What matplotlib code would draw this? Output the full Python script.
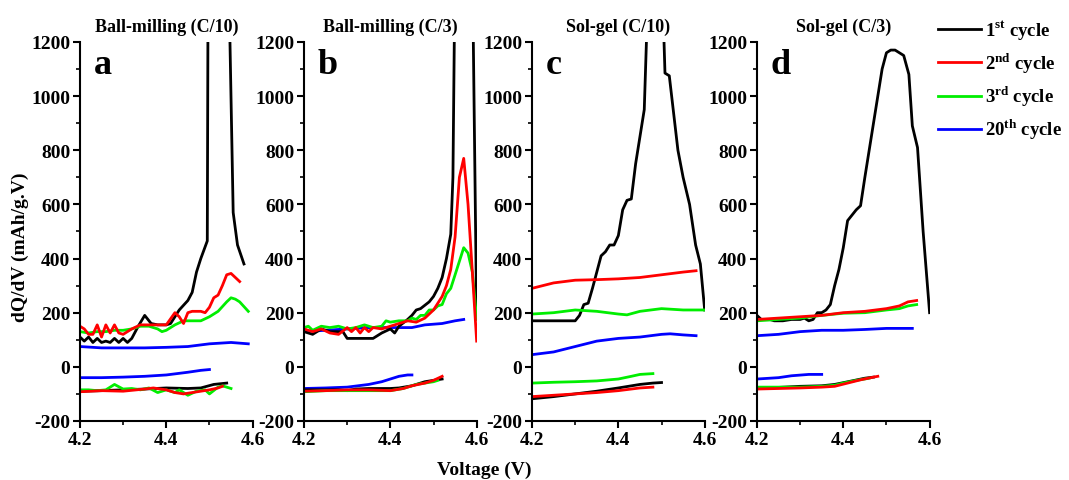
import matplotlib
matplotlib.use('Agg')
import matplotlib.pyplot as plt
from matplotlib.ticker import MultipleLocator
from matplotlib.lines import Line2D

plt.rcParams['font.family'] = ['Liberation Serif', 'DejaVu Serif']
plt.rcParams['font.weight'] = 'bold'
plt.rcParams['mathtext.fontset'] = 'custom'
plt.rcParams['mathtext.rm'] = 'Liberation Serif:bold'
plt.rcParams['mathtext.bf'] = 'Liberation Serif:bold'
plt.rcParams['axes.unicode_minus'] = False

titles = ['Ball-milling (C/10)', 'Ball-milling (C/3)', 'Sol-gel (C/10)', 'Sol-gel (C/3)']
letters = ['a', 'b', 'c', 'd']
cycle_labels = [r'1$^{\rm st}$ cycle', r'2$^{\rm nd}$ cycle', r'3$^{\rm rd}$ cycle', r'20$^{\rm th}$ cycle']
colors = ['black', 'red', '#00ee00', 'blue']

# ---- panel a : ball-milling C/10 (charge = up, discharge = dn)
a_up_v1 = [4.20, 4.21, 4.22, 4.23, 4.24, 4.25, 4.26, 4.27, 4.28, 4.29, 4.30, 4.31, 4.32, 4.335, 4.35, 4.365, 4.38, 4.40, 4.41, 4.43, 4.45, 4.46, 4.47, 4.48, 4.495, 4.497, 4.544, 4.555, 4.565, 4.58]
a_up_q1 = [110, 95, 110, 90, 105, 90, 95, 90, 105, 90, 105, 90, 105, 150, 190, 160, 155, 155, 160, 210, 245, 275, 350, 400, 465, 1500, 1500, 570, 450, 380]
a_up_v2 = [4.20, 4.21, 4.22, 4.23, 4.24, 4.25, 4.26, 4.27, 4.28, 4.29, 4.30, 4.32, 4.34, 4.36, 4.38, 4.40, 4.42, 4.43, 4.44, 4.45, 4.46, 4.48, 4.49, 4.50, 4.51, 4.52, 4.53, 4.54, 4.55, 4.56, 4.57]
a_up_q2 = [150, 140, 120, 120, 155, 110, 155, 125, 155, 125, 120, 140, 155, 155, 155, 155, 200, 185, 160, 200, 205, 205, 200, 220, 255, 265, 300, 340, 345, 330, 315]
a_up_v3 = [4.20, 4.22, 4.24, 4.26, 4.28, 4.30, 4.32, 4.34, 4.36, 4.38, 4.39, 4.40, 4.42, 4.44, 4.46, 4.48, 4.50, 4.52, 4.54, 4.55, 4.56, 4.57, 4.59]
a_up_q3 = [130, 125, 130, 130, 135, 135, 140, 150, 150, 140, 130, 135, 155, 170, 170, 170, 185, 205, 240, 255, 250, 240, 205]
a_up_v20 = [4.20, 4.25, 4.30, 4.35, 4.40, 4.45, 4.50, 4.55, 4.59]
a_up_q20 = [75, 70, 70, 70, 72, 75, 85, 90, 85]
a_dn_v1 = [4.20, 4.25, 4.30, 4.35, 4.40, 4.45, 4.48, 4.51, 4.54]
a_dn_q1 = [-90, -88, -85, -82, -78, -80, -78, -65, -60]
a_dn_v2 = [4.20, 4.25, 4.30, 4.35, 4.37, 4.40, 4.42, 4.44, 4.46, 4.48, 4.50, 4.52, 4.53]
a_dn_q2 = [-92, -88, -90, -82, -78, -85, -95, -100, -95, -90, -85, -78, -72]
a_dn_v3 = [4.20, 4.22, 4.24, 4.26, 4.28, 4.30, 4.32, 4.34, 4.36, 4.38, 4.40, 4.42, 4.43, 4.45, 4.47, 4.49, 4.50, 4.52, 4.53, 4.55]
a_dn_q3 = [-85, -85, -88, -85, -65, -82, -80, -85, -78, -95, -85, -95, -85, -105, -90, -85, -100, -75, -70, -80]
a_dn_v20 = [4.20, 4.25, 4.30, 4.35, 4.40, 4.45, 4.48, 4.50]
a_dn_q20 = [-40, -40, -38, -35, -30, -20, -13, -10]

# ---- panel b : ball-milling C/3
b_up_v1 = [4.20, 4.21, 4.22, 4.24, 4.26, 4.28, 4.29, 4.30, 4.32, 4.34, 4.36, 4.38, 4.40, 4.41, 4.42, 4.44, 4.45, 4.46, 4.47, 4.49, 4.50, 4.51, 4.52, 4.53, 4.54, 4.545, 4.55, 4.59, 4.60]
b_up_q1 = [130, 125, 120, 140, 130, 130, 130, 105, 105, 105, 105, 125, 140, 125, 150, 175, 190, 210, 215, 240, 260, 290, 330, 400, 490, 700, 1500, 1500, 180]
b_up_v2 = [4.20, 4.22, 4.24, 4.26, 4.28, 4.30, 4.31, 4.32, 4.33, 4.34, 4.35, 4.36, 4.38, 4.40, 4.42, 4.44, 4.46, 4.48, 4.50, 4.52, 4.53, 4.54, 4.55, 4.56, 4.57, 4.58, 4.59, 4.60]
b_up_q2 = [140, 130, 140, 125, 120, 145, 130, 145, 125, 145, 130, 145, 140, 150, 160, 170, 165, 180, 210, 260, 300, 360, 480, 700, 770, 600, 350, 95]
b_up_v3 = [4.20, 4.21, 4.22, 4.24, 4.26, 4.28, 4.30, 4.32, 4.34, 4.36, 4.38, 4.39, 4.40, 4.42, 4.44, 4.45, 4.46, 4.47, 4.48, 4.49, 4.50, 4.51, 4.52, 4.53, 4.54, 4.55, 4.56, 4.57, 4.58, 4.59, 4.60]
b_up_q3 = [145, 150, 135, 150, 145, 150, 140, 145, 155, 145, 150, 170, 165, 170, 170, 180, 175, 190, 190, 210, 210, 225, 230, 270, 290, 340, 390, 440, 420, 350, 175]
b_up_v20 = [4.20, 4.25, 4.30, 4.35, 4.40, 4.45, 4.48, 4.52, 4.55, 4.57]
b_up_q20 = [130, 135, 140, 145, 145, 145, 155, 160, 170, 175]
b_dn_v1 = [4.20, 4.25, 4.28, 4.30, 4.32, 4.35, 4.38, 4.40, 4.42, 4.45, 4.48, 4.50, 4.52]
b_dn_q1 = [-85, -85, -85, -88, -82, -80, -80, -80, -78, -70, -55, -50, -45]
b_dn_v2 = [4.20, 4.25, 4.30, 4.35, 4.40, 4.43, 4.45, 4.48, 4.50, 4.52]
b_dn_q2 = [-90, -88, -85, -85, -88, -80, -70, -60, -50, -35]
b_dn_v3 = [4.20, 4.25, 4.30, 4.35, 4.40, 4.43, 4.46, 4.50, 4.51]
b_dn_q3 = [-92, -88, -88, -88, -88, -80, -65, -55, -50]
b_dn_v20 = [4.20, 4.25, 4.30, 4.35, 4.38, 4.40, 4.42, 4.44, 4.45]
b_dn_q20 = [-80, -78, -75, -65, -55, -45, -35, -30, -30]

# ---- panel c : sol-gel C/10
c_up_v1 = [4.20, 4.25, 4.30, 4.31, 4.32, 4.33, 4.34, 4.35, 4.36, 4.37, 4.38, 4.39, 4.40, 4.41, 4.42, 4.43, 4.44, 4.45, 4.46, 4.465, 4.47, 4.50, 4.508, 4.518, 4.538, 4.55, 4.565, 4.579, 4.59, 4.60]
c_up_q1 = [170, 170, 170, 190, 230, 235, 290, 350, 410, 425, 450, 450, 485, 580, 615, 620, 750, 850, 950, 1200, 1500, 1500, 1085, 1075, 800, 700, 600, 450, 380, 210]
c_up_v2 = [4.20, 4.25, 4.30, 4.35, 4.40, 4.45, 4.50, 4.55, 4.58]
c_up_q2 = [290, 310, 320, 322, 325, 330, 340, 350, 355]
c_up_v3 = [4.20, 4.25, 4.30, 4.35, 4.40, 4.42, 4.45, 4.50, 4.55, 4.60]
c_up_q3 = [195, 200, 210, 205, 195, 192, 205, 215, 210, 210]
c_up_v20 = [4.20, 4.25, 4.30, 4.35, 4.40, 4.45, 4.50, 4.52, 4.55, 4.58]
c_up_q20 = [45, 55, 75, 95, 105, 110, 120, 122, 118, 115]
c_dn_v1 = [4.20, 4.25, 4.30, 4.35, 4.40, 4.45, 4.48, 4.50]
c_dn_q1 = [-118, -110, -100, -90, -78, -65, -60, -58]
c_dn_v2 = [4.20, 4.25, 4.30, 4.35, 4.40, 4.45, 4.48]
c_dn_q2 = [-110, -105, -100, -95, -88, -78, -75]
c_dn_v3 = [4.20, 4.25, 4.30, 4.35, 4.40, 4.43, 4.45, 4.48]
c_dn_q3 = [-60, -57, -55, -52, -45, -35, -28, -25]

# ---- panel d : sol-gel C/3
d_up_v1 = [4.20, 4.21, 4.23, 4.24, 4.26, 4.28, 4.30, 4.31, 4.32, 4.33, 4.34, 4.35, 4.36, 4.37, 4.38, 4.39, 4.40, 4.41, 4.42, 4.43, 4.44, 4.45, 4.46, 4.47, 4.48, 4.49, 4.50, 4.51, 4.52, 4.53, 4.54, 4.552, 4.56, 4.572, 4.585, 4.60]
d_up_q1 = [190, 175, 175, 170, 170, 175, 175, 180, 170, 175, 200, 200, 210, 230, 300, 360, 440, 540, 560, 580, 595, 700, 800, 900, 1000, 1100, 1160, 1170, 1170, 1160, 1150, 1080, 890, 810, 500, 200]
d_up_v2 = [4.20, 4.25, 4.30, 4.35, 4.40, 4.45, 4.50, 4.53, 4.55, 4.57]
d_up_q2 = [175, 180, 185, 190, 200, 205, 215, 225, 240, 245]
d_up_v3 = [4.20, 4.25, 4.30, 4.35, 4.40, 4.45, 4.50, 4.53, 4.55, 4.57]
d_up_q3 = [170, 175, 180, 190, 198, 200, 210, 215, 225, 230]
d_up_v20 = [4.20, 4.25, 4.30, 4.35, 4.40, 4.45, 4.50, 4.56]
d_up_q20 = [115, 120, 130, 135, 135, 138, 142, 142]
d_dn_v1 = [4.20, 4.25, 4.30, 4.35, 4.38, 4.42, 4.45, 4.47]
d_dn_q1 = [-78, -76, -72, -70, -65, -52, -42, -38]
d_dn_v2 = [4.20, 4.25, 4.30, 4.35, 4.38, 4.41, 4.44, 4.47, 4.48]
d_dn_q2 = [-82, -80, -78, -75, -72, -60, -48, -38, -35]
d_dn_v3 = [4.20, 4.25, 4.30, 4.35, 4.38, 4.40, 4.43, 4.46]
d_dn_q3 = [-75, -75, -75, -72, -68, -60, -50, -42]
d_dn_v20 = [4.20, 4.25, 4.28, 4.32, 4.35]
d_dn_q20 = [-45, -40, -33, -28, -28]

panels = [
    [(a_up_v1, a_up_q1, a_dn_v1, a_dn_q1), (a_up_v2, a_up_q2, a_dn_v2, a_dn_q2),
     (a_up_v3, a_up_q3, a_dn_v3, a_dn_q3), (a_up_v20, a_up_q20, a_dn_v20, a_dn_q20)],
    [(b_up_v1, b_up_q1, b_dn_v1, b_dn_q1), (b_up_v2, b_up_q2, b_dn_v2, b_dn_q2),
     (b_up_v3, b_up_q3, b_dn_v3, b_dn_q3), (b_up_v20, b_up_q20, b_dn_v20, b_dn_q20)],
    [(c_up_v1, c_up_q1, c_dn_v1, c_dn_q1), (c_up_v2, c_up_q2, c_dn_v2, c_dn_q2),
     (c_up_v3, c_up_q3, c_dn_v3, c_dn_q3), (c_up_v20, c_up_q20, None, None)],
    [(d_up_v1, d_up_q1, d_dn_v1, d_dn_q1), (d_up_v2, d_up_q2, d_dn_v2, d_dn_q2),
     (d_up_v3, d_up_q3, d_dn_v3, d_dn_q3), (d_up_v20, d_up_q20, d_dn_v20, d_dn_q20)],
]

fig = plt.figure(figsize=(10.69, 4.81), dpi=100)
lefts = [0.0748, 0.2844, 0.4977, 0.7081]
w, bottom, h = 0.1615, 0.1227, 0.788

for i, curves in enumerate(panels):
    ax = fig.add_axes([lefts[i], bottom, w, h])
    # draw 3rd before 2nd so red/green overlap like the original
    for k in [3, 0, 2, 1]:
        uv, uq, dv, dq = curves[k]
        ax.plot(uv, uq, color=colors[k], lw=2)
        if dv is not None:
            ax.plot(dv, dq, color=colors[k], lw=2)
    ax.set_xlim(4.2, 4.6)
    ax.set_ylim(-200, 1200)
    ax.xaxis.set_minor_locator(MultipleLocator(0.1))
    ax.yaxis.set_major_locator(MultipleLocator(200))
    ax.yaxis.set_minor_locator(MultipleLocator(100))
    ax.set_xticks([4.2, 4.4, 4.6])
    ax.set_xticklabels(['4.2', '4.4', '4.6'], fontsize=14, fontweight='bold')
    for lab in ax.get_yticklabels():
        lab.set_fontsize(14)
        lab.set_fontweight('bold')
    ax.tick_params(which='major', direction='out', length=5, width=1.5, pad=2)
    ax.tick_params(which='minor', direction='out', length=3, width=1.2)
    for s in ['top', 'right']:
        ax.spines[s].set_visible(False)
    for s in ['left', 'bottom']:
        ax.spines[s].set_linewidth(1.5)
    ax.set_title(titles[i], fontsize=13, fontweight='bold', pad=8)
    ax.text(0.08, 0.985, letters[i], transform=ax.transAxes, fontsize=26,
            fontweight='bold', va='top', ha='left')

fig.text(0.019, 0.487, 'dQ/dV (mAh/g.V)', rotation=90, ha='center', va='center',
         fontsize=14, fontweight='bold')
fig.text(0.453, 0.022, 'Voltage (V)', ha='center', va='center', fontsize=14, fontweight='bold')

handles = [Line2D([], [], color=c, lw=2) for c in colors]
fig.legend(handles, cycle_labels, loc='upper left', bbox_to_anchor=(0.862, 0.995),
           frameon=False, fontsize=13.5, handlelength=2.3, handletextpad=0.2,
           labelspacing=0.45, borderpad=0.4)

fig.savefig('out.png', dpi=100)
